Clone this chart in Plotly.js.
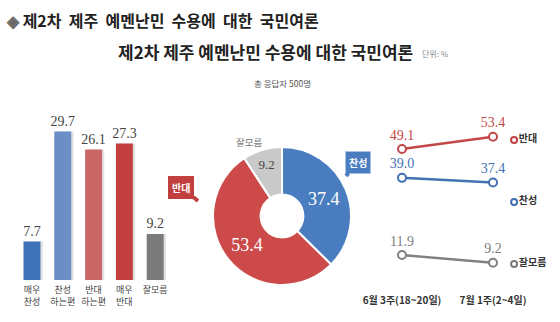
<!DOCTYPE html>
<html>
<head>
<meta charset="utf-8">
<script src="https://cdn.plot.ly/plotly-3.0.1.min.js"></script>
<style>html,body{margin:0;padding:0;background:#fff;}#chart{width:560px;height:322px;}</style>
</head>
<body>
<div id="chart"></div>
<script>
// ---- data ----
const barCategories = ['매우<br>찬성', '찬성<br>하는편', '반대<br>하는편', '매우<br>반대', '잘모름'];
const barValues = [7.7, 29.7, 26.1, 27.3, 9.2];

const pieLabels = ['찬성', '반대', '잘모름'];
const pieValues = [37.4, 53.4, 9.2];

const periods = ['6월 3주(18~20일)', '7월 1주(2~4일)'];
const opposeSeries = [49.1, 53.4];
const supportSeries = [39.0, 37.4];
const unsureSeries = [11.9, 9.2];
const seriesNames = ['잘모름', '찬성', '반대'];

// ---- styles ----
const KR = '"Noto Sans CJK KR", "Noto Sans", sans-serif';
const SERIF = '"Liberation Serif", "DejaVu Serif", serif';
const barColors = ['#3f72b8', '#6b8ec6', '#c96767', '#c23f3f', '#7b7b7b'];
const pieColors = ['#4a7dc0', '#cc4a4a', '#c9c9c9'];
const seriesColors = ['#7a7a7a', '#3f6fb2', '#c0403f'];

const traces = [];
// bar shadow
traces.push({
  type: 'bar', x: barCategories, y: barValues, xaxis: 'x', yaxis: 'y',
  width: 0.55, offset: -0.2, marker: {color: 'rgba(0,0,0,0.12)'},
  hoverinfo: 'skip', showlegend: false
});
// bars
traces.push({
  type: 'bar', x: barCategories, y: barValues, xaxis: 'x', yaxis: 'y',
  width: 0.55, offset: -0.275, marker: {color: barColors},
  texttemplate: '%{y:.1f}', textposition: 'outside', cliponaxis: false, constraintext: 'none',
  textfont: {family: SERIF, size: 14, color: '#444'},
  hoverinfo: 'skip', showlegend: false
});
// donut
traces.push({
  type: 'pie', labels: pieLabels, values: pieValues, sort: false,
  direction: 'clockwise', rotation: 0, hole: 0.31,
  domain: {x: [0.3804, 0.6268], y: [0.1149, 0.5435]},
  marker: {colors: pieColors, line: {color: '#ffffff', width: 2}},
  texttemplate: '%{value:.1f}', textposition: 'inside', insidetextorientation: 'horizontal',
  insidetextfont: {family: SERIF, size: [18, 18, 13], color: ['#ffffff', '#ffffff', '#444']},
  hoverinfo: 'skip', showlegend: false
});
// lines
function lineTrace(vals, color) {
  return {
    type: 'scatter', mode: 'lines+markers+text', x: periods, y: vals,
    xaxis: 'x3', yaxis: 'y3',
    line: {color: color, width: 2.5},
    marker: {symbol: 'circle', size: 8, color: '#ffffff', line: {color: color, width: 2}},
    texttemplate: '%{y:.1f}', textposition: 'top center', cliponaxis: false,
    textfont: {family: SERIF, size: 14, color: color},
    hoverinfo: 'skip', showlegend: false
  };
}
traces.push(lineTrace(opposeSeries, '#c24848'));
traces.push(lineTrace(supportSeries, '#4272b4'));
traces.push(lineTrace(unsureSeries, '#808080'));
// legend markers
traces.push({
  type: 'scatter', mode: 'markers+text', x: seriesNames.map(() => 0), y: seriesNames,
  xaxis: 'x4', yaxis: 'y4', text: seriesNames, textposition: 'middle right',
  textfont: {family: KR, size: 10, color: '#333', weight: 'bold'},
  marker: {symbol: 'circle', size: 6, color: '#ffffff', line: {color: seriesColors, width: 2}},
  cliponaxis: false, hoverinfo: 'skip', showlegend: false
});

const hidden = {showgrid: false, zeroline: false, showline: false, showticklabels: false, ticks: ''};

function px(x) { return x / 560; }
function py(y) { return 1 - y / 322; }

const layout = {
  width: 560, height: 322,
  margin: {l: 0, r: 0, t: 0, b: 0},
  paper_bgcolor: '#ffffff', plot_bgcolor: 'rgba(0,0,0,0)',
  barmode: 'overlay', showlegend: false,
  font: {family: KR},
  xaxis: {domain: [0.0296, 0.3046], type: 'category', showgrid: false, zeroline: false, showline: false,
          ticks: '', ticklabelstandoff: 3, tickfont: {family: KR, size: 9, color: '#444'}},
  yaxis: Object.assign({domain: [0.1304, 0.6739], range: [0, 35]}, hidden),
  xaxis3: {domain: [0.6366, 0.9616], type: 'category', range: [-0.5, 1.5], anchor: 'y3',
           showgrid: false, zeroline: false, showline: false, ticks: '', ticklabelstandoff: 4,
           tickfont: {family: KR, size: 10, color: '#333', weight: 'bold'}},
  yaxis3: Object.assign({domain: [0.1025, 0.6335], range: [0, 60], anchor: 'x3'}, hidden),
  xaxis4: Object.assign({domain: [0.9, 1.0], range: [-0.18, 0.82], anchor: 'y4'}, hidden),
  yaxis4: Object.assign({domain: [0.0839, 0.6615], type: 'category', range: [-0.5, 2.5], anchor: 'x4'}, hidden),
  annotations: [
    {xref: 'paper', yref: 'paper', x: px(4), y: py(20), xanchor: 'left', yanchor: 'middle', showarrow: false,
     text: '<span style="color:#666">◈</span> 제2차  제주  예멘난민  수용에  대한  국민여론',
     font: {family: KR, size: 16, color: '#222', weight: 'bold'}},
    {xref: 'paper', yref: 'paper', x: px(265), y: py(52), xanchor: 'center', yanchor: 'middle', showarrow: false,
     text: '제2차 제주 예멘난민 수용에 대한 국민여론',
     font: {family: KR, size: 17, color: '#222', weight: 'bold'}},
    {xref: 'paper', yref: 'paper', x: px(420), y: py(54), xanchor: 'left', yanchor: 'middle', showarrow: false,
     text: '단위: %', font: {family: KR, size: 8, color: '#888'}},
    {xref: 'paper', yref: 'paper', x: px(282), y: py(83), xanchor: 'center', yanchor: 'middle', showarrow: false,
     text: '총 응답자 500명', font: {family: KR, size: 8.5, color: '#555'}},
    {xref: 'paper', yref: 'paper', x: px(249), y: py(142), xanchor: 'center', yanchor: 'middle', showarrow: false,
     text: '잘모름', font: {family: KR, size: 9.5, color: '#777'}},
    {xref: 'paper', yref: 'paper', x: px(198), y: py(201), ax: -17, ay: -14, axref: 'pixel', ayref: 'pixel',
     showarrow: true, arrowhead: 0, arrowwidth: 4, arrowcolor: '#c23f3f',
     text: '<b>반대</b>', bgcolor: '#c23f3f', bordercolor: '#c23f3f', borderpad: 3,
     font: {family: KR, size: 10, color: '#ffffff'}},
    {xref: 'paper', yref: 'paper', x: px(346), y: py(176), ax: 12, ay: -14, axref: 'pixel', ayref: 'pixel',
     showarrow: true, arrowhead: 0, arrowwidth: 4, arrowcolor: '#4a7dc0',
     text: '<b>찬성</b>', bgcolor: '#4a7dc0', bordercolor: '#a9c3e6', borderwidth: 1, borderpad: 3,
     font: {family: KR, size: 10, color: '#ffffff'}}
  ]
};

Plotly.newPlot('chart', traces, layout, {staticPlot: true, displayModeBar: false});
</script>
</body>
</html>
